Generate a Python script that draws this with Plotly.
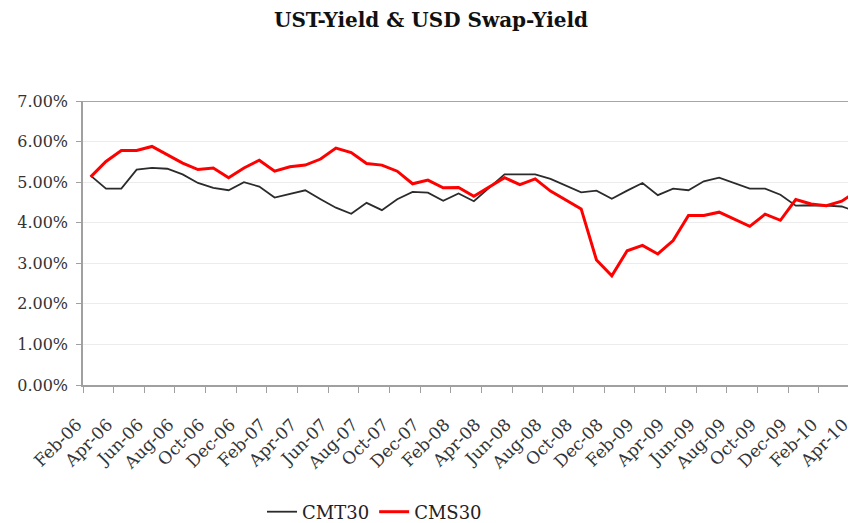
import plotly.graph_objects as go

months = ["Feb-06","Mar-06","Apr-06","May-06","Jun-06","Jul-06","Aug-06","Sep-06","Oct-06","Nov-06","Dec-06",
          "Jan-07","Feb-07","Mar-07","Apr-07","May-07","Jun-07","Jul-07","Aug-07","Sep-07","Oct-07","Nov-07","Dec-07",
          "Jan-08","Feb-08","Mar-08","Apr-08","May-08","Jun-08","Jul-08","Aug-08","Sep-08","Oct-08","Nov-08","Dec-08",
          "Jan-09","Feb-09","Mar-09","Apr-09","May-09","Jun-09","Jul-09","Aug-09","Sep-09","Oct-09","Nov-09","Dec-09",
          "Jan-10","Feb-10","Mar-10","Apr-10"]

cmt30 = [5.16,4.84,4.84,5.31,5.35,5.33,5.19,4.98,4.86,4.80,5.00,
         4.89,4.62,4.71,4.80,4.58,4.37,4.22,4.49,4.31,4.58,4.76,4.74,
         4.54,4.72,4.53,4.86,5.19,5.19,5.19,5.08,4.92,4.75,4.79,4.59,
         4.79,4.98,4.68,4.84,4.80,5.02,5.11,4.98,4.84,4.84,4.69,4.42,
         4.43,4.42,4.40,4.27]

cms30 = [5.13,5.51,5.78,5.78,5.88,5.68,5.47,5.31,5.35,5.11,5.35,
         5.54,5.27,5.38,5.42,5.57,5.84,5.73,5.46,5.42,5.27,4.96,5.05,
         4.86,4.87,4.65,4.88,5.11,4.94,5.08,4.78,4.57,4.34,3.08,2.69,
         3.31,3.44,3.23,3.56,4.18,4.18,4.26,4.09,3.91,4.21,4.06,4.57,
         4.46,4.42,4.53,4.78]

tick_labels = months[::2]
y_ticks = [0, 1, 2, 3, 4, 5, 6, 7]

x_idx = list(range(len(months)))
tick_pos = [i - 0.5 for i in x_idx[::2]]

font_family = "DejaVu Serif"

# the page body has an 8px margin, so the figure is sized to fit the 856x523 window
W, H, OFF = 848, 515, 8

fig = go.Figure()
fig.add_trace(go.Scatter(x=x_idx, y=cmt30, mode="lines", name="CMT30",
                         line=dict(color="#2b2b2b", width=1.8)))
fig.add_trace(go.Scatter(x=x_idx, y=cms30, mode="lines", name="CMS30",
                         line=dict(color="#ff0000", width=3)))

fig.add_shape(type="line", xref="paper", yref="y", x0=0, x1=1, y0=y_ticks[-1], y1=y_ticks[-1],
              line=dict(color="#a6a6a6", width=2), layer="above")

fig.update_layout(
    width=W, height=H,
    paper_bgcolor="white", plot_bgcolor="white",
    margin=dict(l=83 - OFF, r=0, t=101 - OFF, b=H - (385 - OFF), autoexpand=False),
    title=dict(text="<b>UST-Yield &amp; USD Swap-Yield</b>", x=(431 - OFF) / W, xref="container",
               xanchor="center", y=1 - (20 - OFF) / H, yref="container", yanchor="middle",
               font=dict(family=font_family, size=20, color="#111111")),
    font=dict(family=font_family, color="#333333"),
    showlegend=True,
    legend=dict(orientation="h", xref="paper", yref="paper",
                x=(262 - 83) / 773, xanchor="left", y=(385 - 512) / 284, yanchor="middle",
                font=dict(family=font_family, size=18, color="#222222"),
                itemwidth=30, tracegroupgap=0, bgcolor="rgba(0,0,0,0)"),
    xaxis=dict(range=[-0.5, 49.93], tickmode="array", tickvals=tick_pos, ticktext=tick_labels,
               tickangle=-45, tickfont=dict(family=font_family, size=17, color="#333333"),
               showgrid=False, zeroline=False, showline=True, linecolor="#a0a0a0", linewidth=2,
               ticks="outside", ticklen=6, tickcolor="#a0a0a0", tickwidth=1,
               ticklabelstandoff=15, ticklabelshift=-6, ticklabeloverflow="allow", automargin=False),
    yaxis=dict(range=[0, 7], tickmode="array", tickvals=y_ticks,
               ticktext=[f"{v:.2f}%" for v in y_ticks],
               tickfont=dict(family=font_family, size=16, color="#333333"),
               showgrid=True, gridcolor="#ececec", gridwidth=1, zeroline=False,
               showline=True, linecolor="#a0a0a0", linewidth=1.5,
               ticks="outside", ticklen=5, tickcolor="#a0a0a0", ticklabelstandoff=5,
               automargin=False),
)

fig.write_html("out.html")
